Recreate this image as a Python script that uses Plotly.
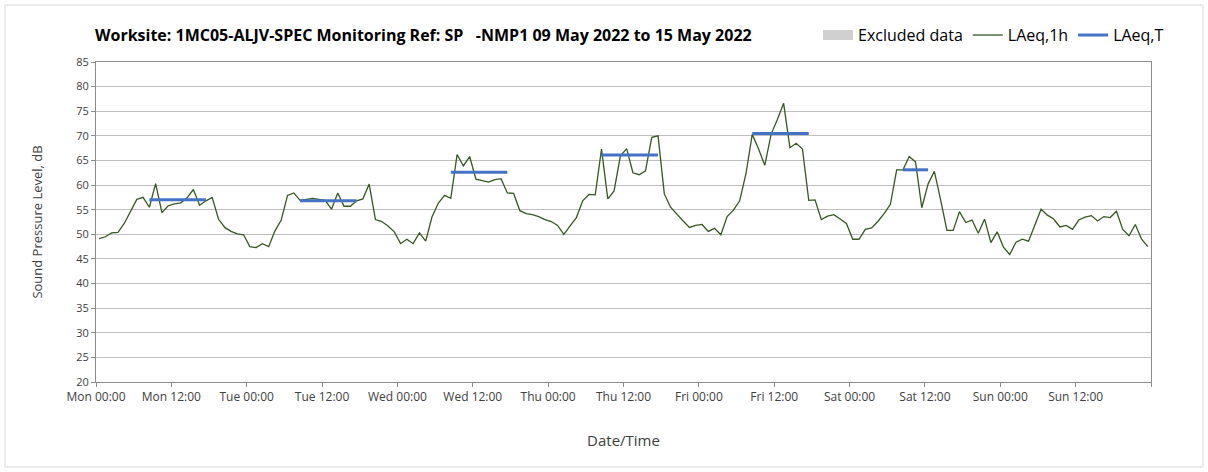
import plotly.graph_objects as go
import pandas as pd

# hourly LAeq,1h, Mon 09 May 2022 00:00 .. Sun 15 May 2022 23:00
laeq_1h = [
    49.1, 49.5, 50.3, 50.4, 52.2, 54.5, 57.1, 57.5, 55.5, 60.3, 54.4, 55.8,
    56.2, 56.4, 57.4, 59.1, 55.9, 56.8, 57.5, 53.1, 51.4, 50.6, 50.1, 49.9,
    47.5, 47.3, 48.1, 47.5, 50.7, 52.9, 57.9, 58.4, 56.9, 57.1, 57.3, 57.1,
    56.9, 55.1, 58.4, 55.7, 55.7, 56.8, 57.2, 60.2, 53.0, 52.6, 51.7, 50.5,
    48.1, 49.0, 48.1, 50.3, 48.6, 53.5, 56.3, 57.9, 57.3, 66.2, 63.9, 65.8,
    61.2, 60.9, 60.6, 61.1, 61.3, 58.4, 58.3, 54.8, 54.2, 54.0, 53.6, 53.0,
    52.6, 51.8, 50.0, 51.7, 53.4, 56.8, 58.1, 58.0, 67.3, 57.2, 58.8, 65.9,
    67.4, 62.5, 62.1, 62.9, 69.7, 70.0, 58.2, 55.5, 54.0, 52.7, 51.4, 51.8,
    52.0, 50.6, 51.2, 49.9, 53.6, 54.9, 56.8, 62.3, 70.3, 67.4, 64.0, 70.3,
    73.3, 76.6, 67.6, 68.5, 67.3, 56.9, 57.0, 53.0, 53.7, 54.0, 53.1, 52.2,
    49.0, 49.0, 51.0, 51.3, 52.6, 54.2, 56.1, 63.1, 63.1, 65.8, 64.7, 55.4,
    60.2, 62.8, 57.0, 50.8, 50.8, 54.6, 52.4, 52.9, 50.2, 53.1, 48.3, 50.5,
    47.4, 45.9, 48.4, 49.0, 48.6, 51.8, 55.1, 53.9, 53.1, 51.5, 51.8, 51.0,
    52.9, 53.5, 53.8, 52.7, 53.6, 53.4, 54.7, 51.0, 49.7, 52.0, 49.0, 47.5,
]

# LAeq,T periods (hour index of first / last hourly value, level)
period_start = [8, 32, 56, 80, 104, 128]
period_end = [17, 41, 65, 89, 113, 132]
period_level = [57.0, 56.8, 62.6, 66.1, 70.5, 63.1]

tick_labels = [
    "Mon 00:00", "Mon 12:00", "Tue 00:00", "Tue 12:00", "Wed 00:00", "Wed 12:00",
    "Thu 00:00", "Thu 12:00", "Fri 00:00", "Fri 12:00", "Sat 00:00", "Sat 12:00",
    "Sun 00:00", "Sun 12:00", "",
]

start = pd.Timestamp("2022-05-09 00:00")
end = pd.Timestamp("2022-05-16 00:00")
# values plotted in the middle of each hour slot
times = [start + pd.Timedelta(minutes=30) + pd.Timedelta(hours=i) for i in range(len(laeq_1h))]
tick_vals = [start + pd.Timedelta(hours=12 * k) for k in range(len(tick_labels))]

t_x, t_y = [], []
for s, e, lv in zip(period_start, period_end, period_level):
    for i in range(s, e + 1):
        t_x.append(times[i])
        t_y.append(lv)
    t_x.append(None)
    t_y.append(None)

font = "Open Sans"
fig = go.Figure()
fig.add_trace(go.Scatter(x=[None], y=[None], name="Excluded data", mode="lines",
                         line=dict(color="#d0d0d0", width=10)))
fig.add_trace(go.Scatter(x=times, y=laeq_1h, name="LAeq,1h", mode="lines",
                         line=dict(color="#375623", width=1.3)))
fig.add_trace(go.Scatter(x=t_x, y=t_y, name="LAeq,T", mode="lines",
                         line=dict(color="#4472C4", width=3), connectgaps=False))

fig.update_layout(
    width=1208, height=472,
    margin=dict(l=96, r=57, t=62, b=90),
    plot_bgcolor="white", paper_bgcolor="white",
    font=dict(family=font, size=11, color="#404040"),
    title=dict(text="<b>Worksite: 1MC05-ALJV-SPEC Monitoring Ref: SP\u00a0\u00a0\u00a0-NMP1 09 May 2022 to 15 May 2022</b>",
               x=95 / 1208, xanchor="left", y=1 - 35 / 472, yanchor="middle",
               font=dict(family=font, size=16, color="#000000")),
    legend=dict(orientation="h", x=(818 - 96) / 1055, xanchor="left", y=1.084, yanchor="middle",
                font=dict(family=font, size=16, color="#000000"), bgcolor="rgba(0,0,0,0)",
                itemwidth=30, tracegroupgap=0),
    showlegend=True,
    xaxis=dict(type="date", range=[start, end], tickvals=tick_vals, ticktext=tick_labels,
               tickfont=dict(size=12),
               showgrid=False, showline=True, linecolor="#8c8c8c", linewidth=1, mirror=True,
               ticks="outside", ticklen=4, tickcolor="#8c8c8c",
               title=dict(text="Date/Time", font=dict(size=15, color="#404040"), standoff=31),
               zeroline=False),
    xaxis2=dict(type="date", range=[start, end], overlaying="x", dtick=86400000, tick0=start,
                showgrid=True, gridcolor="#d9d9d9", showticklabels=False, ticks="",
                showline=False, zeroline=False),
    yaxis=dict(range=[20, 85], dtick=5, showgrid=True, gridcolor="#bfbfbf", gridwidth=1,
               showline=True, linecolor="#8c8c8c", linewidth=1, mirror=True,
               ticks="outside", ticklen=4, tickcolor="#8c8c8c", zeroline=False,
               title=dict(text="Sound Pressure Level, dB", font=dict(size=13, color="#404040"), standoff=30)),
    shapes=[dict(type="rect", xref="paper", yref="paper", x0=-0.0863, x1=1.0493, y0=-0.2656, y1=1.178,
                 line=dict(color="#d9d9d9", width=1), layer="below")],
)

# put the fixed-size figure at the page corner
fig.write_html("out.html", config={"displayModeBar": False},
               post_script="document.body.style.margin='0';")
